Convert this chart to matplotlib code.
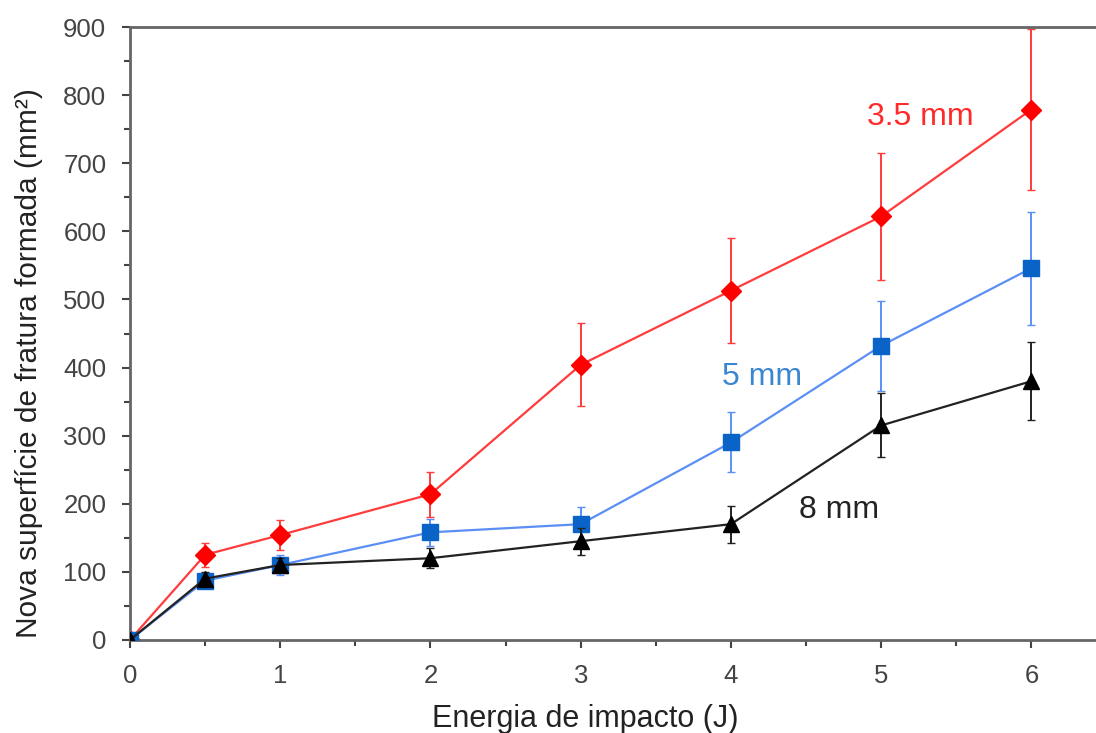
import numpy as np
import matplotlib.pyplot as plt

plt.rcParams['font.family'] = ['Liberation Sans', 'DejaVu Sans']

energia = [0, 0.5, 1, 2, 3, 4, 5, 6]

sup_35 = [0, 125, 154, 214, 404, 513, 622, 779]
err_35 = [0, 18, 22, 33, 61, 77, 93, 118]

sup_5 = [0, 87, 110, 158, 170, 290, 432, 546]
err_5 = [0, 10, 15, 20, 25, 44, 66, 83]

sup_8 = [0, 90, 110, 120, 145, 170, 315, 380]
err_8 = [0, 10, 10, 15, 20, 27, 47, 57]

fig = plt.figure(figsize=(10.96, 7.33), dpi=100)
ax = fig.add_axes([0.1186, 0.127, 0.8814, 0.836])

ax.errorbar(energia, sup_35, yerr=err_35, color='#ff3b3b', lw=1.6,
            marker='D', ms=10, mfc='#ff0000', mec='#ff0000',
            ecolor='#ff3b3b', elinewidth=1.4, capsize=3, zorder=2)
ax.errorbar(energia, sup_5, yerr=err_5, color='#5b8ff5', lw=1.6,
            marker='s', ms=11, mfc='#0a64c8', mec='#0a64c8',
            ecolor='#5b8ff5', elinewidth=1.4, capsize=3, zorder=3)
ax.errorbar(energia, sup_8, yerr=err_8, color='#222222', lw=1.6,
            marker='^', ms=12, mfc='black', mec='black',
            ecolor='#222222', elinewidth=1.4, capsize=3, zorder=4)

ax.text(5.26, 768, '3.5 mm', color='#ff2a2a', fontsize=23, ha='center', va='center')
ax.text(4.21, 386, '5 mm', color='#3a86d0', fontsize=23, ha='center', va='center')
ax.text(4.72, 191, '8 mm', color='#222222', fontsize=23, ha='center', va='center')

ax.set_xlim(0, 6.43)
ax.set_ylim(0, 900)
ax.set_xticks([0, 1, 2, 3, 4, 5, 6])
ax.set_xticks(np.arange(0.5, 6.5, 1), minor=True)
ax.set_yticks(np.arange(0, 901, 100))
ax.set_yticks(np.arange(50, 900, 100), minor=True)

for s in ['left', 'bottom', 'top']:
    ax.spines[s].set_color('#666666')
    ax.spines[s].set_linewidth(2)
ax.spines['right'].set_visible(False)

ax.tick_params(which='major', direction='out', length=6, width=1.5,
               color='#444444', labelsize=18.5, labelcolor='#444444', pad=11)
ax.tick_params(which='minor', direction='out', length=4, width=1.5, color='#444444')
ax.tick_params(axis='x', which='both', top=False)

ax.set_xlabel('Energia de impacto (J)', fontsize=22, color='#222222')
ax.xaxis.set_label_coords(3.03 / 6.43, -0.105)
ax.set_ylabel('Nova superfície de fratura formada (mm²)', fontsize=21.5, color='#222222')
ax.yaxis.set_label_coords(-0.09, 0.452)

fig.savefig('out.png', dpi=100)
